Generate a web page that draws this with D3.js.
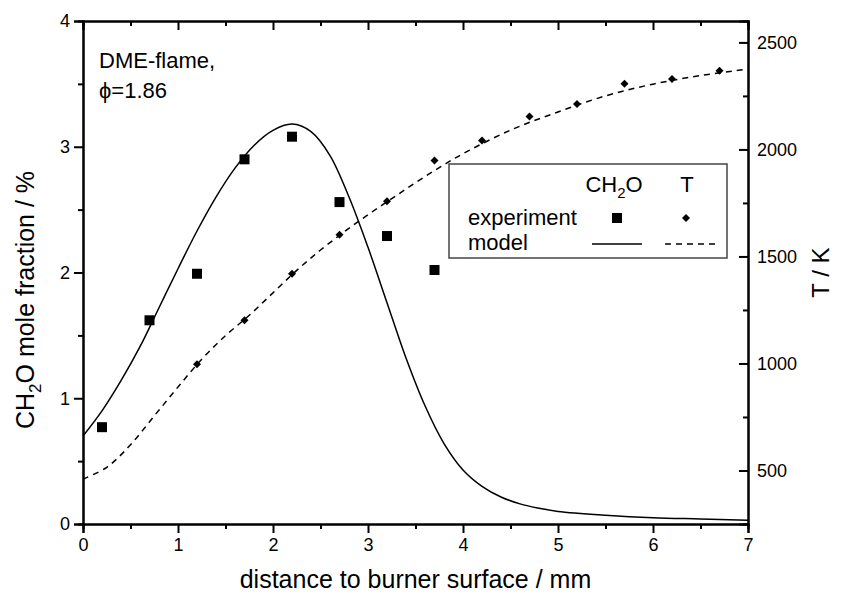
<!DOCTYPE html>
<html>
<head>
<meta charset="utf-8">
<script src="https://cdn.jsdelivr.net/npm/d3@7"></script>
<style>
  body { margin: 0; background: #fff; }
  svg { display: block; font-family: 'Liberation Sans', Arial, sans-serif; }
</style>
</head>
<body>
<div id="chart"></div>
<script>
// experiment, CH2O mole fraction (%)
const ch2oExpX = [0.2, 0.7, 1.2, 1.7, 2.2, 2.7, 3.2, 3.7];
const ch2oExpY = [0.77, 1.62, 1.99, 2.90, 3.08, 2.56, 2.29, 2.02];

// experiment, temperature (K)
const tExpX = [1.2, 1.7, 2.2, 2.7, 3.2, 3.7, 4.2, 4.7, 5.2, 5.7, 6.2, 6.7];
const tExpY = [996, 1202, 1419, 1601, 1758, 1948, 2042, 2154, 2212, 2307, 2329, 2368];

// model, CH2O
const ch2oModX = [0, 0.2, 0.4, 0.6, 0.8, 1.0, 1.2, 1.4, 1.6, 1.8, 2.0, 2.2, 2.4, 2.6, 2.8, 3.0, 3.2, 3.4, 3.6, 3.8, 4.0, 4.2, 4.4, 4.6, 4.8, 5.0, 5.5, 6.0, 6.5, 7.0];
const ch2oModY = [0.70, 0.90, 1.14, 1.41, 1.72, 2.03, 2.33, 2.60, 2.83, 3.01, 3.13, 3.18, 3.12, 2.93, 2.60, 2.20, 1.76, 1.32, 0.94, 0.64, 0.43, 0.30, 0.215, 0.16, 0.125, 0.10, 0.07, 0.05, 0.04, 0.03];

// model, T
const tModX = [0, 0.25, 0.5, 0.75, 1.0, 1.25, 1.5, 1.75, 2.0, 2.25, 2.5, 2.75, 3.0, 3.25, 3.5, 3.75, 4.0, 4.5, 5.0, 5.5, 6.0, 6.5, 7.0];
const tModY = [460, 515, 620, 755, 890, 1020, 1130, 1225, 1330, 1435, 1530, 1615, 1695, 1770, 1845, 1915, 1980, 2090, 2175, 2250, 2305, 2345, 2375];

const xTicks = [0, 1, 2, 3, 4, 5, 6, 7];
const xMinor = [0.5, 1.5, 2.5, 3.5, 4.5, 5.5, 6.5];
const yLTicks = [0, 1, 2, 3, 4];
const yLMinor = [0.5, 1.5, 2.5, 3.5];
const yRTicks = [500, 1000, 1500, 2000, 2500];
const yRMinor = [750, 1250, 1750, 2250];

const width = 842, height = 594;
const pad = { top: 21, right: 94, bottom: 70, left: 83 };

const svg = d3.select('#chart')
  .append('svg')
  .attr('width', width)
  .attr('height', height);

const x = d3.scaleLinear().domain([0, 7]).range([pad.left, width - pad.right]);
const yL = d3.scaleLinear().domain([0, 4]).range([height - pad.bottom, pad.top]);
const yR = d3.scaleLinear().domain([250, 2600]).range([height - pad.bottom, pad.top]);

function styleAxis(g) {
  g.select('.domain').attr('stroke', '#000').attr('stroke-width', 2);
  g.selectAll('.tick line').attr('stroke', '#000').attr('stroke-width', 2);
  g.selectAll('.tick text').attr('fill', '#000').attr('font-size', 18)
    .attr('font-family', "'Liberation Sans', Arial, sans-serif");
}

// minor ticks first, major axes on top
svg.append('g')
  .attr('transform', 'translate(0,' + yL(0) + ')')
  .call(d3.axisBottom(x).tickValues(xMinor).tickSize(5).tickFormat(''))
  .call(styleAxis);
svg.append('g')
  .attr('transform', 'translate(0,' + yL(0) + ')')
  .call(d3.axisBottom(x).tickValues(xTicks).tickSize(9).tickPadding(5).tickFormat(d3.format('d')))
  .call(styleAxis);

svg.append('g')
  .attr('transform', 'translate(0,' + yL(4) + ')')
  .call(d3.axisBottom(x).tickValues(xMinor).tickSize(5).tickFormat(''))
  .call(styleAxis);
svg.append('g')
  .attr('transform', 'translate(0,' + yL(4) + ')')
  .call(d3.axisBottom(x).tickValues(xTicks).tickSize(9).tickFormat(''))
  .call(styleAxis);

svg.append('g')
  .attr('transform', 'translate(' + x(0) + ',0)')
  .call(d3.axisLeft(yL).tickValues(yLMinor).tickSize(5).tickFormat(''))
  .call(styleAxis);
svg.append('g')
  .attr('transform', 'translate(' + x(0) + ',0)')
  .call(d3.axisLeft(yL).tickValues(yLTicks).tickSize(9).tickPadding(4).tickFormat(d3.format('d')))
  .call(styleAxis);

svg.append('g')
  .attr('transform', 'translate(' + x(7) + ',0)')
  .call(d3.axisLeft(yR).tickValues(yRMinor).tickSize(5).tickFormat(''))
  .call(styleAxis);
const rAxis = svg.append('g')
  .attr('transform', 'translate(' + x(7) + ',0)')
  .call(d3.axisLeft(yR).tickValues(yRTicks).tickSize(9).tickFormat(d3.format('d')))
  .call(styleAxis);
// right labels sit outside the frame while ticks point inward
rAxis.selectAll('.tick text')
  .attr('x', 9)
  .attr('text-anchor', 'start');

// model curves
const lineC = d3.line()
  .x(function (d, i) { return x(ch2oModX[i]); })
  .y(function (d) { return yL(d); })
  .curve(d3.curveCatmullRom.alpha(0.5));

const lineT = d3.line()
  .x(function (d, i) { return x(tModX[i]); })
  .y(function (d) { return yR(d); })
  .curve(d3.curveCatmullRom.alpha(0.5));

svg.append('path')
  .datum(ch2oModY)
  .attr('fill', 'none')
  .attr('stroke', '#000')
  .attr('stroke-width', 1.5)
  .attr('d', lineC);

svg.append('path')
  .datum(tModY)
  .attr('fill', 'none')
  .attr('stroke', '#000')
  .attr('stroke-width', 1.5)
  .attr('stroke-dasharray', '6,5')
  .attr('d', lineT);

// experiment markers
const sq = 10, dm = 9;
svg.selectAll('rect.ch2o')
  .data(ch2oExpY)
  .enter().append('rect')
  .attr('class', 'ch2o')
  .attr('x', function (d, i) { return x(ch2oExpX[i]) - sq / 2; })
  .attr('y', function (d) { return yL(d) - sq / 2; })
  .attr('width', sq)
  .attr('height', sq)
  .attr('fill', '#000');

const diamond = d3.symbol().type(d3.symbolDiamond2).size(dm * dm / 2);
svg.selectAll('path.t')
  .data(tExpY)
  .enter().append('path')
  .attr('class', 't')
  .attr('transform', function (d, i) { return 'translate(' + x(tExpX[i]) + ',' + yR(d) + ')'; })
  .attr('d', diamond)
  .attr('fill', '#000');

// axis titles
svg.append('text')
  .attr('x', (x(0) + x(7)) / 2)
  .attr('y', 588)
  .attr('text-anchor', 'middle')
  .attr('font-size', 25)
  .text('distance to burner surface / mm');

const yTitle = svg.append('text')
  .attr('transform', 'translate(34,300) rotate(-90)')
  .attr('text-anchor', 'middle')
  .attr('font-size', 25);
yTitle.append('tspan').text('CH');
yTitle.append('tspan').attr('font-size', 17).attr('dy', 7).text('2');
yTitle.append('tspan').attr('dy', -7).text('O mole fraction / %');

svg.append('text')
  .attr('transform', 'translate(829,' + ((yL(0) + yL(4)) / 2) + ') rotate(-90)')
  .attr('text-anchor', 'middle')
  .attr('font-size', 24)
  .text('T / K');

// annotation
svg.append('text')
  .attr('x', 99)
  .attr('y', 68)
  .attr('font-size', 22)
  .text('DME-flame,');
svg.append('text')
  .attr('x', 99)
  .attr('y', 98)
  .attr('font-size', 22)
  .text('\u03d5=1.86');

// legend
const lg = svg.append('g');
lg.append('rect')
  .attr('x', 449)
  .attr('y', 164)
  .attr('width', 278)
  .attr('height', 94)
  .attr('fill', '#fff')
  .attr('stroke', '#444')
  .attr('stroke-width', 1.5);

const lgHead = lg.append('text')
  .attr('x', 614)
  .attr('y', 192)
  .attr('text-anchor', 'middle')
  .attr('font-size', 22);
lgHead.append('tspan').text('CH');
lgHead.append('tspan').attr('font-size', 15).attr('dy', 6).text('2');
lgHead.append('tspan').attr('dy', -6).text('O');

lg.append('text')
  .attr('x', 687)
  .attr('y', 192)
  .attr('text-anchor', 'middle')
  .attr('font-size', 22)
  .text('T');

lg.append('text')
  .attr('x', 468)
  .attr('y', 225)
  .attr('font-size', 22)
  .text('experiment');
lg.append('text')
  .attr('x', 468)
  .attr('y', 250)
  .attr('font-size', 22)
  .text('model');

lg.append('rect')
  .attr('x', 617 - sq / 2)
  .attr('y', 218 - sq / 2)
  .attr('width', sq)
  .attr('height', sq)
  .attr('fill', '#000');
lg.append('path')
  .attr('transform', 'translate(686,218)')
  .attr('d', diamond)
  .attr('fill', '#000');

lg.append('line')
  .attr('x1', 592).attr('x2', 642)
  .attr('y1', 244).attr('y2', 244)
  .attr('stroke', '#000')
  .attr('stroke-width', 1.5);
lg.append('line')
  .attr('x1', 665).attr('x2', 715)
  .attr('y1', 244).attr('y2', 244)
  .attr('stroke', '#000')
  .attr('stroke-width', 1.5)
  .attr('stroke-dasharray', '6,5');
</script>
</body>
</html>
